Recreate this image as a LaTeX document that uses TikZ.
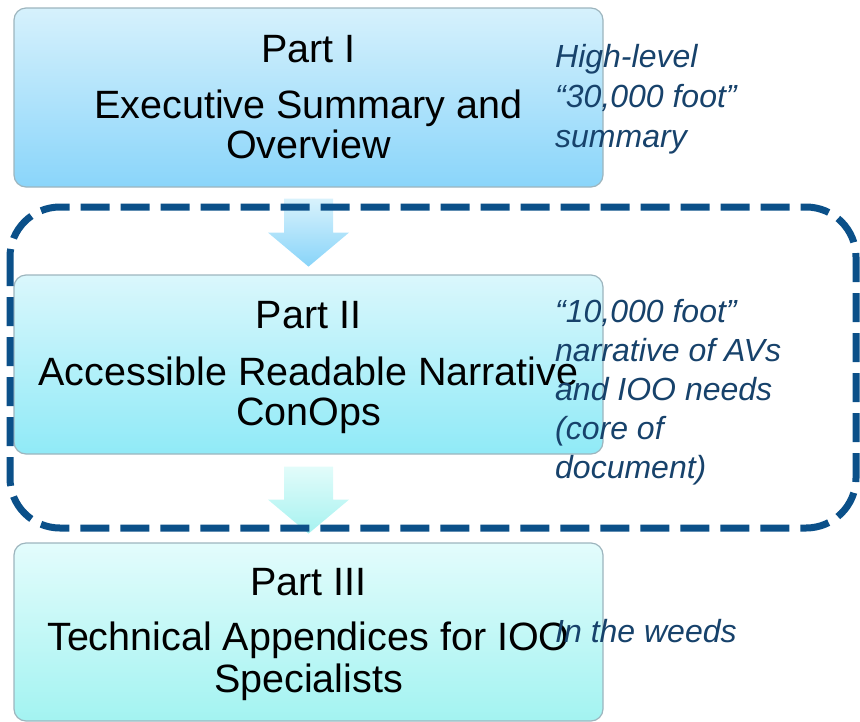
\documentclass[tikz,border=0pt]{standalone}
\usepackage{fontspec}
\setmainfont{Liberation Sans}
\usetikzlibrary{calc}

\definecolor{boxedge}{HTML}{9DB5BE}
\definecolor{pAtop}{HTML}{D6F1FC}
\definecolor{pAbot}{HTML}{8AD5FA}
\definecolor{pBtop}{HTML}{DAF7FC}
\definecolor{pBbot}{HTML}{90EAF7}
\definecolor{pCtop}{HTML}{E3FCFC}
\definecolor{pCbot}{HTML}{A3F3F1}
\definecolor{arAtop}{HTML}{D8F2FC}
\definecolor{arAbot}{HTML}{88D4F9}
\definecolor{arBtop}{HTML}{E2FCFA}
\definecolor{arBbot}{HTML}{A6F2F0}
\definecolor{dashcol}{HTML}{0B5089}
\definecolor{notecol}{HTML}{17426B}

\begin{document}
\begin{tikzpicture}[x=1pt,y=-1pt,
  partbox/.style={draw=boxedge, line width=1.2pt, rounded corners=12pt,
    minimum width=589pt, inner sep=0pt},
  title/.style={anchor=base, inner sep=0pt, text=black,
    font=\fontsize{39.5}{39.5}\selectfont},
  note/.style={anchor=base west, inner sep=0pt, text=notecol,
    font=\fontsize{32}{32}\selectfont\itshape}]
\useasboundingbox (0,0) rectangle (860,721);

% the three parts
\node[partbox, minimum height=179pt, top color=pAtop, bottom color=pAbot] (p1) at (308.5,97.5) {};
\node[partbox, minimum height=179pt, top color=pBtop, bottom color=pBbot] (p2) at (308.5,364.5) {};
\node[partbox, minimum height=178pt, top color=pCtop, bottom color=pCbot] (p3) at (308.5,632) {};

% block arrows between the parts
\begin{scope}[shift={(p1.south)}]
  \shade[top color=arAtop, bottom color=arAbot]
    (-24.5,11) -- (24.5,11) -- (24.5,45) -- (40.5,45) -- (0,79)
    -- (-40.5,45) -- (-24.5,45) -- cycle;
\end{scope}
\begin{scope}[shift={(p2.south)}]
  \shade[top color=arBtop, bottom color=arBbot]
    (-24.5,12) -- (24.5,12) -- (24.5,45) -- (40.5,45) -- (0,79)
    -- (-40.5,45) -- (-24.5,45) -- cycle;
\end{scope}

% dashed frame around the core part
\draw[dashcol, line width=7pt, dash pattern=on 29pt off 11pt, rounded corners=50pt]
  (10,207) rectangle (856,528);

% part titles
\node[title] (t1a) at (308.5,62) {Part I};
\node[title] (t1b) at (308.5,118) {Executive Summary and};
\node[title] (t1c) at (308.5,158) {Overview};

\node[title] (t2a) at (308.5,328) {Part II};
\node[title] (t2b) at (308.5,385) {Accessible Readable Narrative};
\node[title] (t2c) at (308.5,425) {ConOps};

\node[title] (t3a) at (308.5,595) {Part III};
\node[title] (t3b) at (308.5,650) {Technical Appendices for IOO};
\node[title] (t3c) at (308.5,692) {Specialists};

% side notes
\node[note] (n1a) at (555,67) {High-level};
\node[note] (n1b) at (555,107) {“30,000 foot”};
\node[note] (n1c) at (555,147) {summary};

\node[note] (n2a) at (555,322) {“10,000 foot”};
\node[note] (n2b) at (555,361) {narrative of AVs};
\node[note] (n2c) at (555,400) {and IOO needs};
\node[note] (n2d) at (555,439) {(core of};
\node[note] (n2e) at (555,478) {document)};

\node[note] (n3a) at (555,642) {In the weeds};
\end{tikzpicture}
\end{document}
